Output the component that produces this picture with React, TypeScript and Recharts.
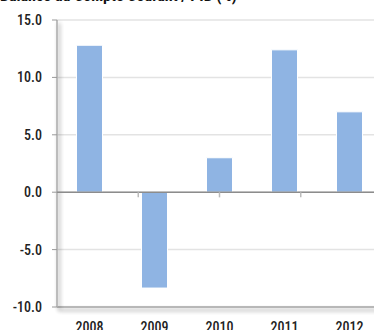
import { BarChart, Bar, XAxis, YAxis, CartesianGrid, ReferenceLine } from "recharts";

const years = ["2008", "2009", "2010", "2011", "2012"];
const balance = [12.8, -8.35, 3.0, 12.4, 7.0];
const yTicks = [-10, -5, 0, 5, 10, 15];
const boundaries = [1, 2, 3, 4];

const FONT = "'Roboto Condensed', 'Liberation Sans Narrow', Roboto, sans-serif";

const data = years.map((year, i) => ({ year, value: balance[i] }));

export default function App() {
  return (
    <div
      style={{
        position: "fixed",
        left: 0,
        top: 0,
        width: 374,
        height: 330,
        overflow: "hidden",
        background: "#fff",
        fontFamily: FONT,
      }}
    >
      <svg width={0} height={0} style={{ position: "absolute" }}>
        <defs>
          <filter
            id="axisShadow"
            filterUnits="userSpaceOnUse"
            x={-20}
            y={-20}
            width={440}
            height={400}
          >
            <feGaussianBlur in="SourceAlpha" stdDeviation="2" />
            <feOffset dx="2" dy="3" result="blur" />
            <feComponentTransfer>
              <feFuncA type="linear" slope="0.45" />
            </feComponentTransfer>
            <feMerge>
              <feMergeNode />
              <feMergeNode in="SourceGraphic" />
            </feMerge>
          </filter>
        </defs>
      </svg>
      <div
        style={{
          position: "absolute",
          left: 0,
          top: -14,
          fontSize: 16,
          fontWeight: 700,
          color: "#111",
          whiteSpace: "nowrap",
        }}
      >
        Balance du Compte Courant / PIB (%)
      </div>
      <BarChart
        width={384}
        height={340}
        data={data}
        margin={{ top: 20, right: 2, left: 0, bottom: 0 }}
        barCategoryGap="30%"
        style={{ position: "absolute", left: 0, top: 0 }}
      >
        <CartesianGrid vertical={false} stroke="#e3e3e3" strokeWidth={1.5} />
        <XAxis
          dataKey="year"
          axisLine={false}
          tickLine={false}
          tickSize={0}
          tickMargin={15}
          tick={{ fill: "#222", fontSize: 14, fontWeight: 500, fontFamily: FONT }}
          height={33}
        />
        <XAxis xAxisId="n" type="number" domain={[0, 5]} hide />
        <YAxis
          width={57}
          domain={[-10, 15]}
          ticks={yTicks}
          tickFormatter={(v: number) => v.toFixed(1)}
          axisLine={false}
          tickLine={{ stroke: "#999" }}
          tickSize={5}
          tickMargin={10}
          tick={{ fill: "#222", fontSize: 14, fontWeight: 500, fontFamily: FONT }}
        />
        <ReferenceLine
          y={-10}
          stroke="#aaa"
          strokeWidth={1.5}
          style={{ filter: "url(#axisShadow)" }}
        />
        <ReferenceLine
          xAxisId="n"
          x={0}
          stroke="#aaa"
          strokeWidth={1.5}
          style={{ filter: "url(#axisShadow)" }}
        />
        <ReferenceLine y={0} stroke="#8c8c8c" strokeWidth={1.5} />
        {boundaries.map((b) => (
          <ReferenceLine
            key={b}
            xAxisId="n"
            segment={[
              { x: b, y: 0 },
              { x: b, y: -0.45 },
            ]}
            stroke="#bbb"
            strokeWidth={1.5}
          />
        ))}
        <Bar
          dataKey="value"
          fill="#8fb4e3"
          stroke="#fff"
          strokeWidth={1}
          isAnimationActive={false}
        />
      </BarChart>
    </div>
  );
}
